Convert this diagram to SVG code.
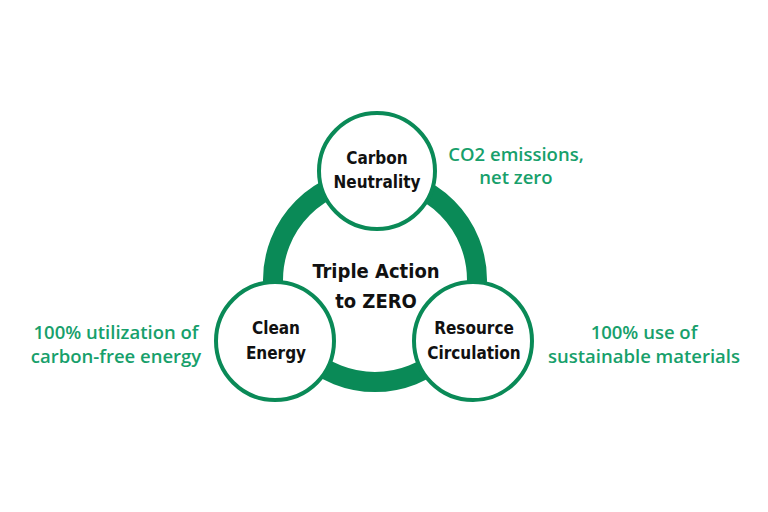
<svg xmlns="http://www.w3.org/2000/svg" width="768" height="512" viewBox="0 0 768 512">
<style>
.n{fill:#fff;stroke:#0a8a57;stroke-width:4}
.t{font-family:"DejaVu Sans Condensed","Liberation Sans",sans-serif;font-weight:bold;fill:#111;text-anchor:middle}
.s{font-family:"Open Sans","Liberation Sans",sans-serif;font-weight:600;fill:#17a06b;font-size:18.5px;text-anchor:middle}
</style>
<rect width="768" height="512" fill="#fff"/>
<g id="connectors"><circle cx="375" cy="280" r="102" fill="none" stroke="#0a8a57" stroke-width="20"/></g>
<g id="center"><text class="t" font-size="20" x="376" y="278">Triple Action</text><text class="t" font-size="20" x="376" y="308">to ZERO</text></g>
<g id="carbon"><circle class="n" cx="377" cy="171" r="58"/><text class="t" font-size="17" x="377" y="164">Carbon</text><text class="t" font-size="17" x="377" y="188">Neutrality</text></g>
<g id="clean"><circle class="n" cx="275" cy="341" r="59"/><text class="t" font-size="17" x="276" y="334">Clean</text><text class="t" font-size="17" x="276" y="359">Energy</text></g>
<g id="resource"><circle class="n" cx="473" cy="341" r="59"/><text class="t" font-size="17" x="474" y="334">Resource</text><text class="t" font-size="17" x="474" y="359">Circulation</text></g>
<g id="labels">
<text class="s" x="516" y="161">CO2 emissions,</text><text class="s" x="516" y="184">net zero</text>
<text class="s" x="116" y="339">100% utilization of</text><text class="s" x="116" y="363">carbon-free energy</text>
<text class="s" x="644" y="339">100% use of</text><text class="s" x="644" y="363">sustainable materials</text>
</g>
</svg>
